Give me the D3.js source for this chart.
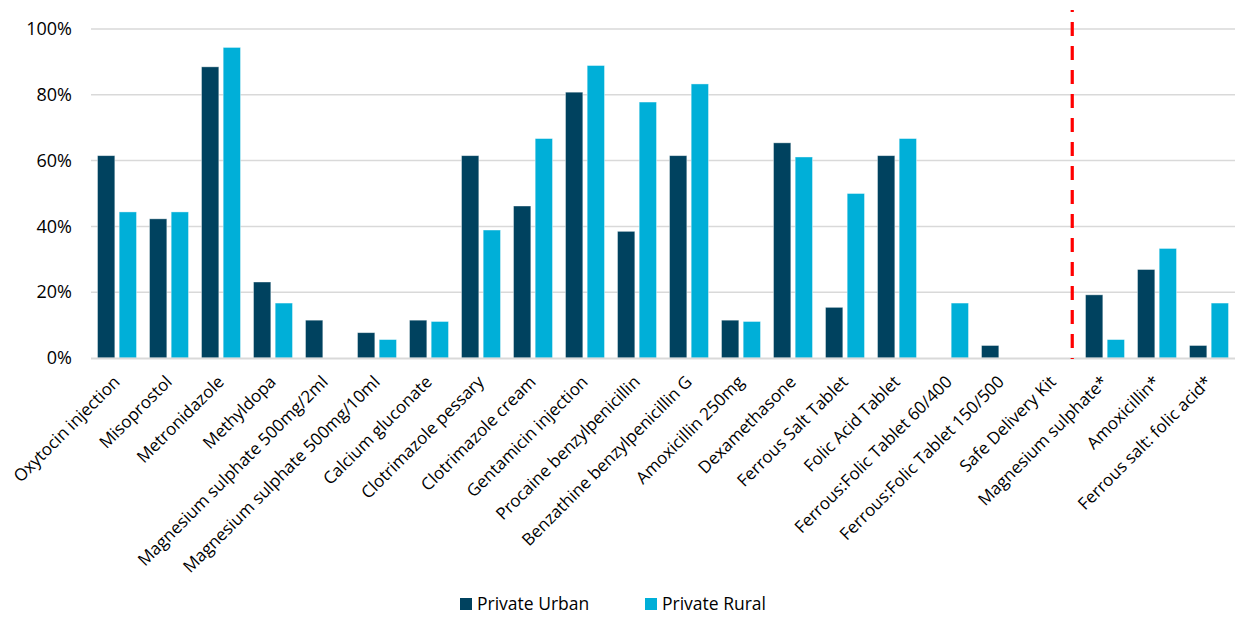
<!DOCTYPE html>
<html>
<head>
<meta charset="utf-8">
<script src="https://cdn.jsdelivr.net/npm/d3@7"></script>
<style>
  html, body { margin: 0; padding: 0; background: #fff; }
  svg { display: block; }
  text { font-family: "Open Sans", "Noto Sans", sans-serif; fill: #000; }
</style>
</head>
<body>
<svg id="chart" width="1235" height="617"></svg>
<script>
const categories = [
  "Oxytocin injection", "Misoprostol", "Metronidazole", "Methyldopa",
  "Magnesium sulphate 500mg/2ml", "Magnesium sulphate 500mg/10ml",
  "Calcium gluconate", "Clotrimazole pessary", "Clotrimazole cream",
  "Gentamicin injection", "Procaine benzylpenicillin",
  "Benzathine benzylpenicillin G", "Amoxicillin 250mg", "Dexamethasone",
  "Ferrous Salt Tablet", "Folic Acid Tablet", "Ferrous:Folic Tablet 60/400",
  "Ferrous:Folic Tablet 150/500", "Safe Delivery Kit", "Magnesium sulphate*",
  "Amoxicillin*", "Ferrous salt: folic acid*"
];
const seriesNames = ["Private Urban", "Private Rural"];
const privateUrban = [61.5, 42.3, 88.5, 23.1, 11.5, 7.7, 11.5, 61.5, 46.2, 80.8, 38.5, 61.5, 11.5, 65.4, 15.4, 61.5, 0, 3.8, 0, 19.2, 26.9, 3.8];
const privateRural = [44.4, 44.4, 94.4, 16.7, 0, 5.6, 11.1, 38.9, 66.7, 88.9, 77.8, 83.3, 11.1, 61.1, 50.0, 66.7, 16.7, 0, 0, 5.6, 33.3, 16.7];
const yTicks = [0, 20, 40, 60, 80, 100];
const dividerBefore = "Magnesium sulphate*";
const colors = ["#00425F", "#00AFD8"];

const svg = d3.select("#chart");
const plot = { left: 91, right: 1235, top: 29, bottom: 358 };

const x0 = d3.scaleBand().domain(categories).range([plot.left, plot.right]);
const x1 = d3.scaleBand().domain(seriesNames)
  .range([x0.bandwidth() * 0.125, x0.bandwidth() * 0.875]).paddingInner(0.2);
const y = d3.scaleLinear().domain([0, 100]).range([plot.bottom, plot.top]);

// gridlines
svg.append("g").selectAll("line").data(yTicks.filter(t => t > 0)).join("line")
  .attr("x1", plot.left).attr("x2", plot.right)
  .attr("y1", d => y(d)).attr("y2", d => y(d))
  .attr("stroke", "#d9d9d9").attr("stroke-width", 1.5);

// y axis labels
const yAxis = d3.axisLeft(y).tickValues(yTicks).tickSize(0).tickPadding(0)
  .tickFormat(d => d + "%");
const yg = svg.append("g").attr("transform", `translate(${plot.left - 19},0)`).call(yAxis);
yg.select(".domain").remove();
yg.selectAll("text").style("font-size", "18px").style("font-family", '"Open Sans", sans-serif').attr("fill", "#000");

// bars
const rows = categories.map((c, i) => ({ cat: c, vals: [privateUrban[i], privateRural[i]] }));
const groups = svg.append("g").selectAll("g").data(rows).join("g")
  .attr("transform", d => `translate(${x0(d.cat)},0)`);
groups.selectAll("rect").data(d => d.vals.map((v, k) => ({ v, k })).filter(o => o.v > 0)).join("rect")
  .attr("x", d => x1(seriesNames[d.k]))
  .attr("width", x1.bandwidth())
  .attr("y", d => y(d.v))
  .attr("height", d => y(0) - y(d.v))
  .attr("fill", d => colors[d.k])
  .attr("stroke", "#ffffff").attr("stroke-opacity", 0.5).attr("stroke-width", 0.8);

// baseline
svg.append("line")
  .attr("x1", plot.left).attr("x2", plot.right)
  .attr("y1", y(0) + 0.5).attr("y2", y(0) + 0.5)
  .attr("stroke", "#d9d9d9").attr("stroke-width", 2);

// category labels
const xAxisG = svg.append("g");
xAxisG.selectAll("text").data(categories).join("text")
  .attr("transform", d => `translate(${x0(d) + x0.bandwidth() / 2 + 4},${plot.bottom + 25}) rotate(-45)`)
  .attr("text-anchor", "end")
  .style("font-size", "17px")
  .text(d => d);

// red dashed divider
const divX = x0(dividerBefore) - x0.step() * 0.13;
svg.append("line")
  .attr("x1", divX).attr("x2", divX)
  .attr("y1", 10).attr("y2", plot.bottom + 1)
  .attr("stroke", "#ff0000").attr("stroke-width", 3.2)
  .attr("stroke-dasharray", "14,10").attr("stroke-dashoffset", 12);

// legend
const legendItems = [
  { name: seriesNames[0], color: colors[0], x: 460 },
  { name: seriesNames[1], color: colors[1], x: 645 }
];
const lg = svg.append("g").selectAll("g").data(legendItems).join("g")
  .attr("transform", d => `translate(${d.x},598)`);
lg.append("rect").attr("width", 12).attr("height", 12).attr("fill", d => d.color);
lg.append("text").attr("x", 17).attr("y", 12).style("font-size", "17.5px").text(d => d.name);
</script>
</body>
</html>
